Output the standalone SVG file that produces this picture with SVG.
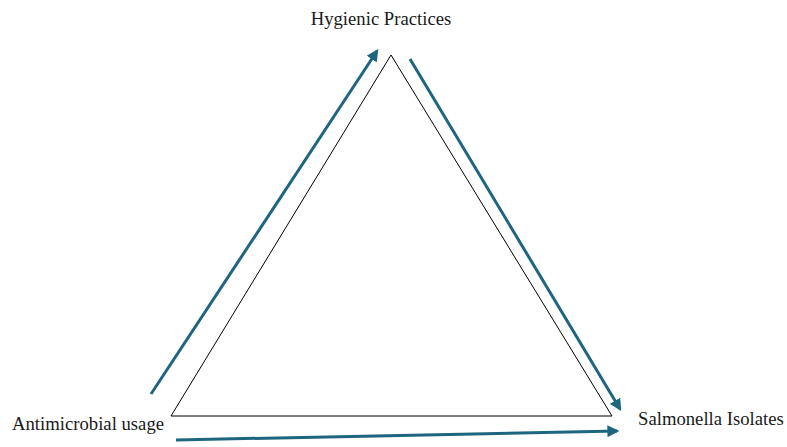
<svg xmlns="http://www.w3.org/2000/svg" width="787" height="447" viewBox="0 0 787 447">
<style>
.lbl{font-family:"Liberation Serif","Times New Roman",serif;font-size:18.7px;fill:#1a1a1a}
.arr{stroke:#1e6580;stroke-width:3;fill:none;marker-end:url(#ah)}
</style>
<defs>
<marker id="ah" viewBox="0 0 10 10" refX="8" refY="5" markerWidth="4" markerHeight="4" orient="auto" markerUnits="strokeWidth">
<path d="M0,0 L10,5 L0,10 Z" fill="#1e6580"/>
</marker>
</defs>
<rect width="787" height="447" fill="#ffffff"/>
<g id="triangle">
<polygon points="391,55 171,416 612,416" fill="none" stroke="#000" stroke-width="1"/>
</g>
<g id="hygienic"><text class="lbl" x="381" y="25" text-anchor="middle">Hygienic Practices</text></g>
<g id="antimicrobial"><text class="lbl" x="12" y="430">Antimicrobial usage</text></g>
<g id="salmonella"><text class="lbl" x="638" y="425">Salmonella Isolates</text></g>
<g id="connectors">
<line class="arr" x1="151" y1="394" x2="377" y2="51"/>
<line class="arr" x1="410" y1="59" x2="620" y2="409"/>
<line class="arr" x1="176" y1="440" x2="617" y2="431"/>
</g>
</svg>
